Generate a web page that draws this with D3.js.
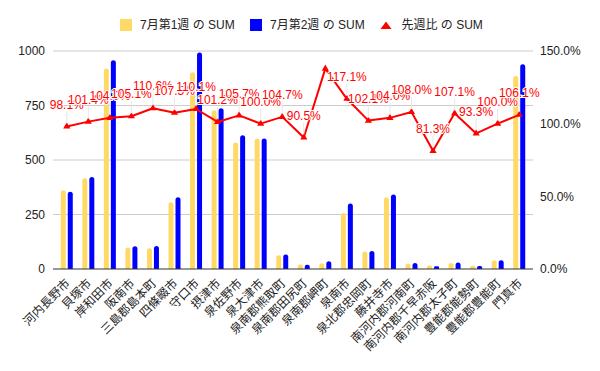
<!DOCTYPE html>
<html>
<head>
<meta charset="utf-8">
<script src="https://cdn.jsdelivr.net/npm/d3@7"></script>
<style>
  body { margin: 0; background: #fff; }
  text { font-family: Arial, "Liberation Sans", "Noto Sans CJK JP", sans-serif; }
</style>
</head>
<body>
<svg id="chart" width="600" height="371"></svg>
<script>
(function() {
  'use strict';

// data
var categories = ["河内長野市", "貝塚市", "岸和田市", "阪南市", "三島郡島本町", "四條畷市", "守口市", "摂津市",
  "泉佐野市", "泉大津市", "泉南郡熊取町", "泉南郡田尻町", "泉南郡岬町", "泉南市", "泉北郡忠岡町", "藤井寺市",
  "南河内郡河南町", "南河内郡千早赤阪", "南河内郡太子町", "豊能郡能勢町", "豊能郡豊能町", "門真市"];
var week1 = [361, 416, 920, 99, 95, 306, 902, 728, 580, 599, 63, 21, 26, 257, 80, 329, 25, 16, 28, 15, 40, 885];
var week2 = [354, 422, 957, 104, 105, 329, 993, 737, 613, 599, 66, 19, 36, 301, 82, 342, 27, 13, 30, 14, 40, 939];
var ratio = [98.1, 101.4, 104.0, 105.1, 110.6, 107.5, 110.1, 101.2, 105.7, 100.0, 104.7, 90.5, 137.9, 117.1,
  102.1, 104.0, 108.0, 81.3, 107.1, 93.3, 100.0, 106.1];
var leftTicks = [0, 250, 500, 750, 1000];
var rightTicks = [0, 50, 100, 150];
var seriesNames = ["7月第1週 の SUM", "7月第2週 の SUM", "先週比 の SUM"];

var cYellow = "#ffd966", cBlue = "#0000ff", cRed = "#ff0000";

var svg = d3.select("#chart");
var top = 51, bottom = 269, left = 53, right = 533;

var x = d3.scaleBand().domain(categories).range([56, 530]);
var yL = d3.scaleLinear().domain([0, 1000]).range([bottom, top]);
var yR = d3.scaleLinear().domain([0, 150]).range([bottom, top]);
var cx = function(c) { return x(c) + x.bandwidth() / 2; };

// grid
svg.append("g").selectAll("line")
   .data(leftTicks.slice(1))
   .enter().append("line")
   .attr("x1", left).attr("x2", right)
   .attr("y1", function(d) { return yL(d); })
   .attr("y2", function(d) { return yL(d); })
   .attr("stroke", "#cccccc").attr("stroke-width", 1);

// left axis labels
svg.append("g").selectAll("text")
   .data(leftTicks)
   .enter().append("text")
   .attr("x", 45).attr("y", function(d) { return yL(d); })
   .attr("dy", "0.35em").attr("text-anchor", "end")
   .attr("font-size", 12).attr("fill", "#222")
   .text(function(d) { return d; });

// right axis labels
svg.append("g").selectAll("text")
   .data(rightTicks)
   .enter().append("text")
   .attr("x", 540).attr("y", function(d) { return yR(d); })
   .attr("dy", "0.35em").attr("text-anchor", "start")
   .attr("font-size", 12).attr("fill", "#222")
   .text(function(d) { return d3.format(".1f")(d) + "%"; });

// bars with rounded tops
function barPath(x0, w, y0, y1) {
  var r = Math.min(2.5, w / 2, (y1 - y0) / 2);
  return "M" + x0 + "," + y1 + "V" + (y0 + r) +
    "Q" + x0 + "," + y0 + " " + (x0 + r) + "," + y0 +
    "H" + (x0 + w - r) +
    "Q" + (x0 + w) + "," + y0 + " " + (x0 + w) + "," + (y0 + r) +
    "V" + y1 + "Z";
}
var barW = 5;
svg.append("g").selectAll("path")
   .data(categories)
   .enter().append("path")
   .attr("fill", cYellow)
   .attr("d", function(c, i) { return barPath(cx(c) - 6, barW, yL(week1[i]), bottom); });
svg.append("g").selectAll("path")
   .data(categories)
   .enter().append("path")
   .attr("fill", cBlue)
   .attr("d", function(c, i) { return barPath(cx(c) + 1, barW, yL(week2[i]), bottom); });

// baseline
svg.append("line")
   .attr("x1", left).attr("x2", right).attr("y1", bottom).attr("y2", bottom)
   .attr("stroke", "#333").attr("stroke-width", 1);

// ratio line
var line = d3.line()
  .x(function(d, i) { return cx(categories[i]); })
  .y(function(d) { return yR(d); });
svg.append("path")
   .datum(ratio)
   .attr("d", line)
   .attr("fill", "none").attr("stroke", cRed).attr("stroke-width", 2)
   .attr("stroke-linejoin", "round");

var tri = d3.symbol().type(d3.symbolTriangle).size(22);
svg.append("g").selectAll("path")
   .data(ratio)
   .enter().append("path")
   .attr("d", tri)
   .attr("fill", cRed)
   .attr("transform", function(d, i) { return "translate(" + cx(categories[i]) + "," + yR(d) + ")"; });

// data labels with stems, dropped if above the plot
var labels = ratio.map(function(d, i) { return {v: d, x: cx(categories[i]), y: yR(d)}; })
  .filter(function(d) { return d.y - 22 - 6 > top; });
svg.append("g").selectAll("line")
   .data(labels)
   .enter().append("line")
   .attr("x1", function(d) { return d.x; }).attr("x2", function(d) { return d.x; })
   .attr("y1", function(d) { return d.y - 3; }).attr("y2", function(d) { return d.y - 15; })
   .attr("stroke", "#e6e6e6").attr("stroke-width", 1);
svg.append("g").selectAll("text")
   .data(labels)
   .enter().append("text")
   .attr("x", function(d) { return d.x; }).attr("y", function(d) { return d.y - 22; })
   .attr("dy", "0.35em").attr("text-anchor", "middle")
   .attr("font-size", 12).attr("fill", cRed)
   .attr("stroke", "#fff").attr("stroke-width", 2).attr("paint-order", "stroke")
   .text(function(d) { return d3.format(".1f")(d.v) + "%"; });

// category labels
svg.append("g").selectAll("text")
   .data(categories)
   .enter().append("text")
   .attr("transform", function(c) { return "translate(" + (cx(c) + 1) + ",281) rotate(-45)"; })
   .attr("dy", "0.35em").attr("text-anchor", "end")
   .attr("font-size", 12).attr("fill", "#222")
   .text(function(c) { return c; });

// legend
var legend = svg.append("g");
var legX = [120, 250, 381];
legend.append("rect").attr("x", legX[0]).attr("y", 19).attr("width", 12).attr("height", 12).attr("fill", cYellow);
legend.append("rect").attr("x", legX[1]).attr("y", 19).attr("width", 12).attr("height", 12).attr("fill", cBlue);
legend.append("path")
   .attr("d", "M" + (legX[2] + 5) + ",21.5L" + (legX[2] + 10.5) + ",29L" + (legX[2] - 0.5) + ",29Z")
   .attr("fill", cRed);
legend.selectAll("text")
   .data(seriesNames)
   .enter().append("text")
   .attr("x", function(d, i) { return legX[i] + (i === 2 ? 20.5 : 20); })
   .attr("y", 25).attr("dy", "0.35em")
   .attr("font-size", 12).attr("fill", "#222")
   .text(function(d) { return d; });

})();
</script>
</body>
</html>
